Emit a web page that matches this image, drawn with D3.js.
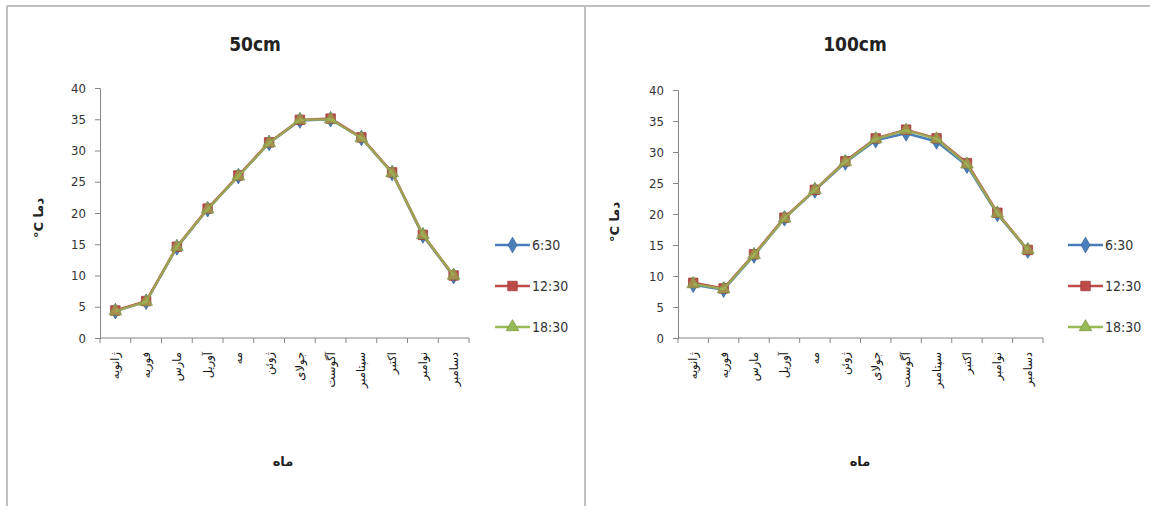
<!DOCTYPE html>
<html>
<head>
<meta charset="utf-8">
<script src="https://cdn.jsdelivr.net/npm/d3@7"></script>
<style>
  body { margin: 0; background: #fff; }
  svg { display: block; }
</style>
</head>
<body>
<svg id="chart" width="1150" height="506"></svg>
<script>
// months (Persian names of Gregorian months)
const months = ['ژانویه', 'فوریه', 'مارس', 'آوریل', 'مه', 'ژوئن', 'جولای', 'آگوست', 'سپتامبر', 'اکتبر', 'نوامبر', 'دسامبر']
const seriesNames = ['6:30', '12:30', '18:30']
const yTicks = [0, 5, 10, 15, 20, 25, 30, 35, 40]

// 50cm depth
const depth50_630 = [4.3, 5.8, 14.5, 20.6, 25.9, 31.2, 34.8, 35.0, 32.0, 26.4, 16.4, 9.9]
const depth50_1230 = [4.4, 5.9, 14.6, 20.7, 26.0, 31.3, 34.9, 35.1, 32.1, 26.5, 16.5, 10.0]
const depth50_1830 = [4.3, 5.8, 14.6, 20.6, 25.9, 31.2, 34.9, 35.0, 32.0, 26.4, 16.5, 10.0]

// 100cm depth
const depth100_630 = [8.6, 7.8, 13.3, 19.3, 23.8, 28.3, 31.9, 33.0, 31.7, 27.8, 20.0, 14.1]
const depth100_1230 = [8.9, 8.0, 13.5, 19.4, 23.9, 28.5, 32.2, 33.6, 32.2, 28.2, 20.2, 14.2]
const depth100_1830 = [8.7, 7.9, 13.4, 19.3, 23.9, 28.4, 32.1, 33.5, 32.1, 28.0, 20.1, 14.2]

const colors = ['#4a7ebb', '#be4b48', '#98b954']
const symbols = [d3.symbolDiamond, d3.symbolSquare, d3.symbolTriangle]
const symbolSizes = [70, 90, 70]

const svg = d3.select('#chart')
const narrow = '"DejaVu Sans Condensed", "DejaVu Sans", sans-serif'
const arabic = '"DejaVu Sans", sans-serif'

// outer frame lines
const frame = svg.append('g').attr('stroke', '#c0c0c0').attr('stroke-width', 2)
frame.append('line').attr('x1', 7).attr('x2', 1150).attr('y1', 6).attr('y2', 6)
frame.append('line').attr('x1', 7).attr('x2', 7).attr('y1', 6).attr('y2', 506)
frame.append('line').attr('x1', 585).attr('x2', 585).attr('y1', 6).attr('y2', 506)

const panels = [
  {
    title: '50cm', series: [depth50_630, depth50_1230, depth50_1830],
    xRange: [100, 469], yRange: [338, 88], titleX: 255,
    yLabelX: 43, yLabelY: 218, xLabelX: 283, legendX: 495,
  },
  {
    title: '100cm', series: [depth100_630, depth100_1230, depth100_1830],
    xRange: [678, 1043], yRange: [338, 90], titleX: 855,
    yLabelX: 619, yLabelY: 222, xLabelX: 860, legendX: 1068,
  },
]

panels.forEach((p) => {
  const g = svg.append('g')
  const x = d3.scaleBand().domain(months).range(p.xRange).padding(0)
  const y = d3.scaleLinear().domain([0, 40]).range(p.yRange)
  const cx = (m) => x(m) + x.bandwidth() / 2

  // title
  g.append('text')
    .attr('x', p.titleX).attr('y', 51)
    .attr('text-anchor', 'middle')
    .style('font-family', narrow).style('font-size', '19px').style('font-weight', 'bold')
    .attr('fill', '#222')
    .text(p.title)

  // y axis
  const gy = g.append('g')
    .attr('transform', `translate(${p.xRange[0]},0)`)
    .call(d3.axisLeft(y).tickValues(yTicks).tickSize(5).tickPadding(9))
  gy.select('.domain').attr('stroke', '#868686')
  gy.selectAll('.tick line').attr('stroke', '#868686')
  gy.selectAll('.tick text')
    .style('font-family', narrow).style('font-size', '13px').attr('fill', '#333')

  // x axis (ticks between categories)
  const gx = g.append('g').attr('transform', `translate(0,${p.yRange[0]})`)
  gx.append('line')
    .attr('x1', p.xRange[0]).attr('x2', p.xRange[1])
    .attr('stroke', '#868686')
  gx.selectAll('line.tk')
    .data(d3.range(months.length + 1))
    .join('line').attr('class', 'tk')
    .attr('x1', (i) => p.xRange[0] + i * x.step())
    .attr('x2', (i) => p.xRange[0] + i * x.step())
    .attr('y1', 0).attr('y2', 5)
    .attr('stroke', '#868686')
  gx.selectAll('text')
    .data(months)
    .join('text')
    .attr('transform', (m) => `translate(${cx(m) + 4},14) rotate(-90)`)
    .attr('text-anchor', 'end')
    .style('font-family', arabic).style('font-size', '11.5px')
    .attr('fill', '#111')
    .text((m) => m)

  // axis titles
  g.append('text')
    .attr('transform', `translate(${p.yLabelX},${p.yLabelY}) rotate(-90)`)
    .attr('text-anchor', 'middle')
    .style('font-family', arabic).style('font-size', '13px').style('font-weight', 'bold')
    .attr('fill', '#222')
    .text('°C دما')
  g.append('text')
    .attr('x', p.xLabelX).attr('y', 466)
    .attr('text-anchor', 'middle')
    .style('font-family', arabic).style('font-size', '13px').style('font-weight', 'bold')
    .attr('fill', '#222')
    .text('ماه')

  // series lines + markers
  const line = d3.line().x((d, i) => cx(months[i])).y((d) => y(d))
  p.series.forEach((vals, si) => {
    g.append('path')
      .attr('d', line(vals))
      .attr('fill', 'none')
      .attr('stroke', colors[si])
      .attr('stroke-width', 2.5)
      .attr('stroke-opacity', si === 2 ? 0.8 : 1)
    g.selectAll(null)
      .data(vals)
      .join('path')
      .attr('transform', (d, i) => `translate(${cx(months[i])},${y(d)})`)
      .attr('d', d3.symbol(symbols[si], symbolSizes[si]))
      .attr('fill', colors[si])
      .attr('fill-opacity', si === 2 ? 0.6 : 1)
      .attr('stroke', d3.color(colors[si]).darker(0.5))
      .attr('stroke-width', 0.8)
  })

  // legend
  const legendY = [245, 286, 327]
  seriesNames.forEach((name, si) => {
    const lg = g.append('g').attr('transform', `translate(${p.legendX},${legendY[si]})`)
    lg.append('line').attr('x1', 0).attr('x2', 35)
      .attr('stroke', colors[si]).attr('stroke-width', 2.5)
    lg.append('path')
      .attr('transform', 'translate(17.5,0)')
      .attr('d', d3.symbol(symbols[si], symbolSizes[si]))
      .attr('fill', colors[si])
      .attr('stroke', d3.color(colors[si]).darker(0.5))
      .attr('stroke-width', 0.8)
    lg.append('text')
      .attr('x', 37).attr('y', 5)
      .style('font-family', narrow).style('font-size', '14px')
      .attr('fill', '#333')
      .text(name)
  })
})
</script>
</body>
</html>
